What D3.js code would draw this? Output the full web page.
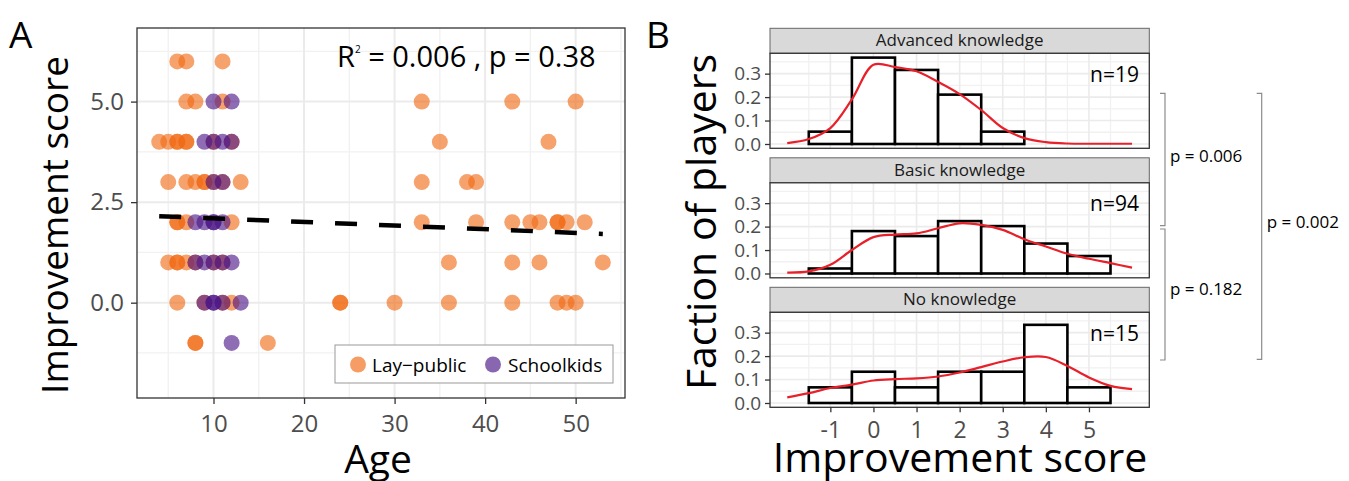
<!DOCTYPE html>
<html>
<head>
  <meta charset="utf-8">
  <title>Improvement score</title>
  <style>
  body {
    margin: 0;
    background: #fff;
    font-family: "Open Sans", sans-serif;
  }

  .grid-major {
    stroke: #ebebeb;
    stroke-width: 2;
  }

  .grid-minor {
    stroke: #f1f1f1;
    stroke-width: 1.3;
  }

  .frame {
    fill: none;
    stroke: #333;
    stroke-width: 1.3;
  }

  .bar {
    fill: #fff;
    stroke: #000;
    stroke-width: 2.6;
  }

  .dens {
    fill: none;
    stroke: #e8202a;
    stroke-width: 2.2;
  }

  .strip {
    fill: #d9d9d9;
    stroke: #666;
    stroke-width: 1;
  }

  .bracket {
    fill: none;
    stroke: #8c8c8c;
    stroke-width: 1.2;
  }
  </style>
  <script src="https://d3js.org/d3.v7.min.js"></script>
</head>
<body>
<div id="container"></div>
<script>
// panel A: [age, improvement score]
var layPublic = [
  [6, 6], [7, 6], [11, 6],
  [7, 5], [8, 5], [11, 5], [33, 5], [43, 5], [50, 5],
  [4, 4], [5, 4], [6, 4], [6, 4], [7, 4], [7, 4], [10, 4], [12, 4], [35, 4], [47, 4],
  [5, 3], [7, 3], [8, 3], [9, 3], [9, 3], [10, 3], [11, 3], [13, 3], [33, 3], [38, 3], [39, 3],
  [6, 2], [6, 2], [7, 2], [12, 2], [33, 2], [39, 2], [43, 2], [45, 2], [46, 2], [48, 2], [48, 2], [49, 2], [51, 2],
  [5, 1], [6, 1], [6, 1], [7, 1], [8, 1], [10, 1], [11, 1], [36, 1], [43, 1], [46, 1], [53, 1],
  [6, 0], [9, 0], [11, 0], [12, 0], [24, 0], [24, 0], [30, 0], [36, 0], [43, 0], [48, 0], [49, 0], [50, 0],
  [8, -1], [8, -1], [16, -1]
]

var schoolkids = [
  [10, 5], [12, 5],
  [9, 4], [10, 4], [11, 4], [12, 4],
  [10, 3], [11, 3],
  [8, 2], [9, 2], [10, 2], [10, 2], [11, 2],
  [8, 1], [9, 1], [10, 1], [11, 1], [12, 1],
  [9, 0], [10, 0], [10, 0], [11, 0], [13, 0],
  [12, -1]
]

var regLine = [[4, 2.15], [53, 1.71]]
var ageTicks = [10, 20, 30, 40, 50]
var scoreTicks = [0, 2.5, 5]

// panel B
var facetNames = ['Advanced knowledge', 'Basic knowledge', 'No knowledge']
var facetN = [19, 94, 15]
var bins = [-1, 0, 1, 2, 3, 4, 5]
var advancedCounts = [1, 7, 6, 4, 1, 0, 0]
var basicCounts = [2, 17, 15, 21, 19, 12, 7]
var noneCounts = [1, 2, 1, 2, 2, 5, 1]

var densX = [-2, -1.5, -1, -0.5, 0, 0.5, 1, 1.5, 2, 2.5, 3, 3.5, 4, 4.5, 5, 5.5, 6]
var advancedDens = [0.004, 0.021, 0.068, 0.19, 0.338, 0.328, 0.31, 0.265, 0.213, 0.145, 0.068, 0.025, 0.008, 0.002, 0.001, 0.001, 0.001]
var basicDens = [0.004, 0.009, 0.037, 0.1, 0.155, 0.166, 0.171, 0.193, 0.214, 0.207, 0.186, 0.146, 0.115, 0.084, 0.063, 0.044, 0.025]
var noneDens = [0.024, 0.042, 0.064, 0.078, 0.096, 0.102, 0.105, 0.113, 0.13, 0.153, 0.177, 0.195, 0.196, 0.158, 0.109, 0.073, 0.059]
var fracTicks = [0, 0.1, 0.2, 0.3]

var pValues = ['p = 0.006', 'p = 0.182', 'p = 0.002']

var svg = d3.select('#container').append('svg')
    .attr('width', 1349)
    .attr('height', 481)
    .style('font-family', '"Open Sans", sans-serif')

function midpoints(ticks, lo, hi) {
  var step = ticks[1] - ticks[0], out = []
  for (var v = ticks[0] - step / 2; v <= hi; v += step) if (v >= lo) out.push(v)
  for (var w = ticks[0] - step * 1.5; w >= lo; w -= step) out.push(w)
  return out
}

function styleAxis(g, size) {
  g.select('.domain').remove()
  g.selectAll('line').attr('stroke', '#333').attr('stroke-width', 1.3)
  g.selectAll('text')
    .attr('fill', '#4d4d4d')
    .style('font-size', size + 'px')
    .style('font-family', '"Open Sans", sans-serif')
}

// ---------------- panel A
var A = { left: 137, right: 625, top: 28, bottom: 398 }
var xA = d3.scaleLinear().domain([1.55, 55.45]).range([A.left, A.right])
var yA = d3.scaleLinear().domain([-2.37, 6.83]).range([A.bottom, A.top])

var pa = svg.append('g').attr('class', 'panelA')

pa.append('rect')
  .attr('x', A.left).attr('y', A.top)
  .attr('width', A.right - A.left).attr('height', A.bottom - A.top)
  .attr('fill', '#fff')

pa.selectAll('.vminor')
  .data(midpoints(ageTicks, xA.domain()[0], xA.domain()[1]))
.enter().append('line')
  .attr('class', 'grid-minor')
  .attr('x1', function(d) { return xA(d) }).attr('x2', function(d) { return xA(d) })
  .attr('y1', A.top).attr('y2', A.bottom)

pa.selectAll('.hminor')
  .data(midpoints(scoreTicks, yA.domain()[0], yA.domain()[1]))
.enter().append('line')
  .attr('class', 'grid-minor')
  .attr('y1', function(d) { return yA(d) }).attr('y2', function(d) { return yA(d) })
  .attr('x1', A.left).attr('x2', A.right)

pa.selectAll('.vmajor')
  .data(ageTicks)
.enter().append('line')
  .attr('class', 'grid-major')
  .attr('x1', function(d) { return xA(d) }).attr('x2', function(d) { return xA(d) })
  .attr('y1', A.top).attr('y2', A.bottom)

pa.selectAll('.hmajor')
  .data(scoreTicks)
.enter().append('line')
  .attr('class', 'grid-major')
  .attr('y1', function(d) { return yA(d) }).attr('y2', function(d) { return yA(d) })
  .attr('x1', A.left).attr('x2', A.right)

pa.selectAll('.lay')
  .data(layPublic)
.enter().append('circle')
  .attr('cx', function(d) { return xA(d[0]) })
  .attr('cy', function(d) { return yA(d[1]) })
  .attr('r', 8)
  .attr('fill', '#f16913')
  .attr('fill-opacity', 0.62)

pa.selectAll('.kid')
  .data(schoolkids)
.enter().append('circle')
  .attr('cx', function(d) { return xA(d[0]) })
  .attr('cy', function(d) { return yA(d[1]) })
  .attr('r', 8)
  .attr('fill', '#4a1486')
  .attr('fill-opacity', 0.62)

pa.append('path')
  .datum(regLine)
  .attr('d', d3.line().x(function(d) { return xA(d[0]) }).y(function(d) { return yA(d[1]) }))
  .attr('fill', 'none')
  .attr('stroke', '#000')
  .attr('stroke-width', 4.5)
  .attr('stroke-dasharray', '22,22')

pa.append('rect')
  .attr('class', 'frame')
  .attr('x', A.left).attr('y', A.top)
  .attr('width', A.right - A.left).attr('height', A.bottom - A.top)

pa.append('g')
  .attr('transform', 'translate(0,' + A.bottom + ')')
  .call(d3.axisBottom(xA).tickValues(ageTicks).tickSize(6).tickPadding(11))
  .call(styleAxis, 24)

pa.append('g')
  .attr('transform', 'translate(' + A.left + ',0)')
  .call(d3.axisLeft(yA).tickValues(scoreTicks).tickSize(6).tickPadding(7).tickFormat(d3.format('.1f')))
  .call(styleAxis, 24)

var r2 = pa.append('text')
  .attr('x', 337).attr('y', 67)
  .style('font-size', '29px')
r2.append('tspan').text('R')
r2.append('tspan').attr('dy', -14).style('font-size', '10px').text('2')
r2.append('tspan').attr('dy', 14).text(' = 0.006 , p = 0.38')

// legend
var leg = pa.append('g')
leg.append('rect')
  .attr('x', 335).attr('y', 345).attr('width', 278).attr('height', 38)
  .attr('fill', '#fff').attr('stroke', '#999').attr('stroke-width', 1)
leg.append('circle').attr('cx', 358).attr('cy', 364.5).attr('r', 8)
  .attr('fill', '#f16913').attr('fill-opacity', 0.65)
leg.append('text').attr('x', 372).attr('y', 371.5).style('font-size', '19px').text('Lay\u2212public')
leg.append('circle').attr('cx', 493).attr('cy', 364.5).attr('r', 8)
  .attr('fill', '#4a1486').attr('fill-opacity', 0.65)
leg.append('text').attr('x', 508).attr('y', 371.5).style('font-size', '19px').text('Schoolkids')

svg.append('text')
  .attr('transform', 'translate(68,225) rotate(-90)')
  .attr('text-anchor', 'middle')
  .style('font-size', '37px')
  .text('Improvement score')

svg.append('text')
  .attr('x', 378).attr('y', 473)
  .attr('text-anchor', 'middle')
  .style('font-size', '39px')
  .text('Age')

svg.append('text').attr('x', 9).attr('y', 48).style('font-size', '37px').text('A')
svg.append('text').attr('x', 646).attr('y', 48).style('font-size', '37px').text('B')

// ---------------- panel B
var B = { left: 770, right: 1149.3, top: 28.3, stripH: 25, panelH: 95, step: 129.5 }
var xB = d3.scaleLinear().domain([-2.4, 6.4]).range([B.left, B.right])
var counts = [advancedCounts, basicCounts, noneCounts]
var dens = [advancedDens, basicDens, noneDens]
var xMinor = midpoints(bins, xB.domain()[0], xB.domain()[1])
var yMinor = [0.05, 0.15, 0.25, 0.35]

facetNames.forEach(function(name, i) {
  var stripTop = B.top + i * B.step,
      pTop = stripTop + B.stripH,
      pBot = pTop + B.panelH
  var y = d3.scaleLinear().domain([-0.0184, 0.3868]).range([pBot, pTop])
  var g = svg.append('g').attr('class', 'facet')

  g.append('rect')
    .attr('class', 'strip')
    .attr('x', B.left).attr('y', stripTop)
    .attr('width', B.right - B.left).attr('height', B.stripH)
  g.append('text')
    .attr('x', (B.left + B.right) / 2).attr('y', stripTop + 18)
    .attr('text-anchor', 'middle')
    .attr('fill', '#1a1a1a')
    .style('font-size', '17px')
    .text(name)

  g.append('rect')
    .attr('x', B.left).attr('y', pTop)
    .attr('width', B.right - B.left).attr('height', B.panelH)
    .attr('fill', '#fff')

  g.selectAll('.vminor').data(xMinor).enter().append('line')
    .attr('class', 'grid-minor')
    .attr('x1', function(d) { return xB(d) }).attr('x2', function(d) { return xB(d) })
    .attr('y1', pTop).attr('y2', pBot)
  g.selectAll('.hminor').data(yMinor).enter().append('line')
    .attr('class', 'grid-minor')
    .attr('y1', function(d) { return y(d) }).attr('y2', function(d) { return y(d) })
    .attr('x1', B.left).attr('x2', B.right)
  g.selectAll('.vmajor').data(bins).enter().append('line')
    .attr('class', 'grid-major').style('stroke-width', 1.6)
    .attr('x1', function(d) { return xB(d) }).attr('x2', function(d) { return xB(d) })
    .attr('y1', pTop).attr('y2', pBot)
  g.selectAll('.hmajor').data(fracTicks).enter().append('line')
    .attr('class', 'grid-major').style('stroke-width', 1.6)
    .attr('y1', function(d) { return y(d) }).attr('y2', function(d) { return y(d) })
    .attr('x1', B.left).attr('x2', B.right)

  var frac = counts[i].map(function(c, j) { return { bin: bins[j], f: c / facetN[i] } })
    .filter(function(d) { return d.f > 0 })

  g.selectAll('.bar').data(frac).enter().append('rect')
    .attr('class', 'bar')
    .attr('x', function(d) { return xB(d.bin - 0.5) })
    .attr('width', function(d) { return xB(d.bin + 0.5) - xB(d.bin - 0.5) })
    .attr('y', function(d) { return y(d.f) })
    .attr('height', function(d) { return y(0) - y(d.f) })

  g.append('path')
    .datum(densX.map(function(x, j) { return [x, dens[i][j]] }))
    .attr('class', 'dens')
    .attr('d', d3.line()
      .x(function(d) { return xB(d[0]) })
      .y(function(d) { return y(d[1]) })
      .curve(d3.curveCatmullRom.alpha(0.5)))

  g.append('text')
    .attr('x', 1139).attr('y', pTop + 28.5)
    .attr('text-anchor', 'end')
    .style('font-size', '21px')
    .text('n=' + facetN[i])

  g.append('rect')
    .attr('class', 'frame')
    .attr('x', B.left).attr('y', pTop)
    .attr('width', B.right - B.left).attr('height', B.panelH)

  g.append('g')
    .attr('transform', 'translate(' + B.left + ',0)')
    .call(d3.axisLeft(y).tickValues(fracTicks).tickSize(5).tickPadding(4).tickFormat(d3.format('.1f')))
    .call(styleAxis, 19)

  if (i === facetNames.length - 1) {
    g.append('g')
      .attr('transform', 'translate(0,' + pBot + ')')
      .call(d3.axisBottom(xB).tickValues(bins).tickSize(5).tickPadding(9)
        .tickFormat(function(d) { return String(d) }))
      .call(styleAxis, 23)
  }
})

svg.append('text')
  .attr('transform', 'translate(716,222) rotate(-90)')
  .attr('text-anchor', 'middle')
  .style('font-size', '41px')
  .text('Faction of players')

svg.append('text')
  .attr('x', 960).attr('y', 472)
  .attr('text-anchor', 'middle')
  .style('font-size', '41px')
  .text('Improvement score')

// significance brackets
var brackets = [
  { x: 1165, y1: 93.3, y2: 225.7, ty: 161.7 },
  { x: 1165, y1: 229, y2: 360, ty: 295 },
  { x: 1261.7, y1: 93.3, y2: 359.3, ty: 228.3 }
]
brackets.forEach(function(b, i) {
  svg.append('path')
    .attr('class', 'bracket')
    .attr('d', 'M' + (b.x - 5) + ',' + b.y1 + 'H' + b.x + 'V' + b.y2 + 'H' + (b.x - 5))
  svg.append('text')
    .attr('x', b.x + 5).attr('y', b.ty)
    .style('font-size', '17px')
    .text(pValues[i])
})
</script>
</body>
</html>
